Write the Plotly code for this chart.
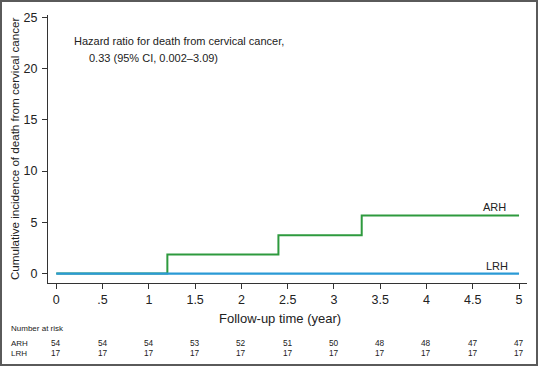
import plotly.graph_objects as go

# ---- data ----
arh_time = [0, 1.2, 2.4, 3.3, 5]
arh_cum = [0, 1.85, 3.74, 5.66, 5.66]
lrh_time = [0, 5]
lrh_cum = [0, 0]

x_ticks = [0, 0.5, 1, 1.5, 2, 2.5, 3, 3.5, 4, 4.5, 5]
x_tick_labels = ["0", ".5", "1", "1.5", "2", "2.5", "3", "3.5", "4", "4.5", "5"]
y_ticks = [0, 5, 10, 15, 20, 25]

risk_arh = [54, 54, 54, 53, 52, 51, 50, 48, 48, 47, 47]
risk_lrh = [17, 17, 17, 17, 17, 17, 17, 17, 17, 17, 17]

W, H = 538, 366
ML, MR, MT, MB = 48, 11, 15, 83
PW, PH = W - ML - MR, H - MT - MB

def py(px):  # pixel row -> paper y
    return (H - MB - px) / PH

def pxx(px):  # pixel col -> paper x
    return (px - ML) / PW

FONT = "Liberation Sans, Arial, sans-serif"
GREEN = "#2e9a3e"
BLUE = "#2a9ad6"
TXT = "#222"

fig = go.Figure()
fig.add_trace(go.Scatter(x=arh_time, y=arh_cum, mode="lines", line_shape="hv",
                         line=dict(color=GREEN, width=2), showlegend=False, hoverinfo="skip"))
fig.add_trace(go.Scatter(x=lrh_time, y=lrh_cum, mode="lines", line_shape="hv",
                         line=dict(color=BLUE, width=2.2), showlegend=False, hoverinfo="skip"))

fig.update_layout(
    width=W, height=H,
    margin=dict(l=ML, r=MR, t=MT, b=MB, pad=0),
    paper_bgcolor="white", plot_bgcolor="white",
    font=dict(family=FONT, color=TXT),
    xaxis=dict(range=[-0.0897, 5.086], tickvals=x_ticks, ticktext=x_tick_labels,
               showgrid=False, zeroline=False, showline=True, linecolor="#333", linewidth=1,
               ticks="outside", ticklen=5, tickcolor="#333",
               tickfont=dict(size=12.5, family=FONT, color=TXT)),
    yaxis=dict(range=[-0.92, 25.22], tickvals=y_ticks,
               showgrid=False, zeroline=False, showline=True, linecolor="#333", linewidth=1,
               ticks="outside", ticklen=5, tickcolor="#333",
               tickfont=dict(size=12.5, family=FONT, color=TXT),
               ticklabelstandoff=2),
)

def note(text, x, y, size, xref="paper", xanchor="center", angle=0):
    return dict(text=text, x=x, y=y, xref=xref, yref="paper", xanchor=xanchor,
                yanchor="middle", textangle=angle, showarrow=False,
                font=dict(size=size, family=FONT, color=TXT))

ann = []
ann.append(note("Cumulative incidence of death from cervical cancer", pxx(14), py(149), 11.6, angle=-90))
ann.append(note("Follow-up time (year)", pxx(280), py(318), 13))
ann.append(note("Hazard ratio for death from cervical cancer,", pxx(72), py(41), 11, xanchor="left"))
ann.append(note("0.33 (95% CI, 0.002\u20133.09)", pxx(87), py(57.5), 11, xanchor="left"))
ann.append(note("ARH", pxx(494.5), py(207), 11))
ann.append(note("LRH", pxx(496.5), py(266), 11))
ann.append(note("Number at risk", pxx(9), py(328), 8, xanchor="left"))
for lab, row, ypx in [("ARH", risk_arh, 343), ("LRH", risk_lrh, 353)]:
    ann.append(note(lab, pxx(9), py(ypx), 8, xanchor="left"))
    for xv, n in zip(x_ticks, row):
        ann.append(note(str(n), xv, py(ypx), 8.3, xref="x"))
fig.update_layout(annotations=ann)

# outer frame
fig.add_shape(type="rect", xref="paper", yref="paper",
              x0=pxx(1), x1=pxx(W - 1), y0=py(H - 1), y1=py(1),
              line=dict(color="#5a5a5a", width=2), fillcolor="rgba(0,0,0,0)", layer="above")

fig.write_html("out.html", config={"displayModeBar": False},
               post_script="document.body.style.margin='0';")
